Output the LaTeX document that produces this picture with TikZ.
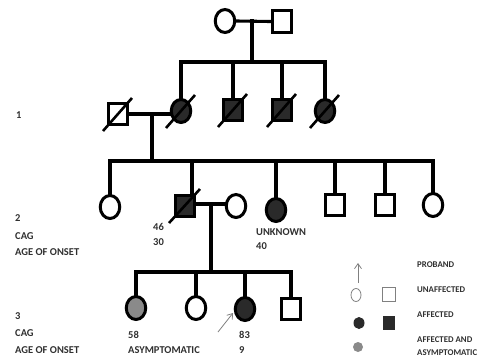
\documentclass[tikz,border=0pt]{standalone}
\usepackage{fontspec}
\setmainfont{Carlito}
\usetikzlibrary{shapes.geometric,calc,arrows.meta}
\definecolor{aff}{HTML}{2A2A2A}
\definecolor{asy}{HTML}{8A8A8A}
\definecolor{txt}{HTML}{303030}
\tikzset{
  pline/.style={line width=3.1pt, line cap=rect},
  fem/.style={ellipse, draw, line width=3pt, minimum width=19.5pt, minimum height=23pt, inner sep=0pt},
  male/.style={rectangle, draw, line width=3pt, minimum width=19pt, minimum height=21.5pt, inner sep=0pt},
  affd/.style={fill=aff},
  asym/.style={fill=asy},
  slash/.style={line width=2.6pt},
  lbl/.style={anchor=west, inner sep=0pt, text height=6.8pt, text depth=0pt, text=txt, font=\fontsize{10.5}{12}\selectfont\bfseries},
  leg/.style={anchor=west, inner sep=0pt, text height=5.8pt, text depth=0pt, text=txt, font=\fontsize{8.8}{10}\selectfont\bfseries},
  arr/.style={draw=gray, line width=0.8pt, -{Straight Barb[length=5pt,width=7pt]}},
  lsym/.style={draw=gray, line width=0.8pt, inner sep=0pt}
}
\begin{document}
\begin{tikzpicture}[x=1pt,y=-1pt]
\useasboundingbox (0,0) rectangle (485,360);
% generation 0
\node[fem] (g0f) at (225,21) {};
\node[male] (g0m) at (282,21.5) {};
\coordinate (c0) at (252,21);
\coordinate (c0b) at (252,62);
\draw[pline] (g0f.east) -- (g0m.west);
\draw[pline] (c0) -- (c0b);
% generation 1
\node[male] (sp1) at (118,114) {};
\node[fem,affd] (g1a) at (181,111) {};
\node[male,affd] (g1b) at (233,110) {};
\node[male,affd] (g1c) at (282,110) {};
\node[fem,affd] (g1d) at (325,111) {};
\draw[pline] (g1a.north) |- (c0b) -| (g1d.north);
\draw[pline] (g1b.north) -- (g1b.north |- c0b);
\draw[pline] (g1c.north) -- (g1c.north |- c0b);
\draw[pline] (sp1.east) -- (sp1.east -| g1a.west);
\coordinate (c1) at (152,114);
\coordinate (c1b) at (152,161);
\draw[pline] (c1) -- (c1b);
\foreach \n in {sp1,g1a,g1b,g1c,g1d}{
  \draw[slash] ($(\n)+(-15,17)$) -- ($(\n)+(14,-16)$);
}
% generation 2
\node[fem] (g2a) at (110,207) {};
\node[male,affd] (g2b) at (185,206) {};
\node[fem] (sp2) at (236,206) {};
\node[fem,affd] (g2c) at (276,210) {};
\node[male] (g2d) at (335,205) {};
\node[male] (g2e) at (385,205) {};
\node[fem] (g2f) at (433,205) {};
\draw[pline] (g2a.north) |- (c1b) -| (g2f.north);
\foreach \n in {g2c,g2d,g2e}{
  \draw[pline] (\n.north) -- (\n.north |- c1b);
}
\coordinate (g2bt) at ([xshift=7pt]g2b.north);
\draw[pline] (g2bt) -- (g2bt |- c1b);
\draw[slash] ($(g2b)+(-16,17)$) -- ($(g2b)+(15,-17)$);
\coordinate (c2) at (211,204);
\coordinate (c2b) at (211,272);
\draw[pline] (g2b.east |- c2) -- (sp2.west |- c2);
\draw[pline] (c2) -- (c2b);
% generation 3
\node[fem,asym] (g3a) at (136,308) {};
\node[fem] (g3b) at (196,308) {};
\node[fem,affd] (g3c) at (245,309) {};
\node[male] (g3d) at (291,309) {};
\draw[pline] (g3a.north) |- (c2b) -| (g3d.north);
\foreach \n in {g3b,g3c}{
  \draw[pline] (\n.north) -- (\n.north |- c2b);
}
\coordinate (pa) at (218,332);
\coordinate (pb) at (233,313);
\draw[arr] (pa) -- (pb);
% labels
\node[lbl] (l1) at (16,115) {1};
\node[lbl] (l2a) at (15,218) {2};
\node[lbl] (l2b) at (15,236) {CAG};
\node[lbl] (l2c) at (15,252) {AGE OF ONSET};
\node[lbl] (l3a) at (15,316) {3};
\node[lbl] (l3b) at (15,333) {CAG};
\node[lbl] (l3c) at (15,350) {AGE OF ONSET};
\node[lbl] (t46) at (153,227) {46};
\node[lbl] (t30) at (153,242) {30};
\node[lbl] (tun) at (256,232) {UNKNOWN};
\node[lbl] (t40) at (256,246) {40};
\node[lbl] (t58) at (128,335) {58};
\node[lbl] (tas) at (128,350) {ASYMPTOMATIC};
\node[lbl] (t83) at (239,335) {83};
\node[lbl] (t9) at (239,350) {9};
% legend
\coordinate (la) at (358,283);
\coordinate (lb) at (358,263);
\draw[arr] (la) -- (lb);
\node[lsym, ellipse, minimum width=10pt, minimum height=13pt] (lfw) at (356,295) {};
\node[lsym, rectangle, minimum width=13pt, minimum height=14pt] (lmw) at (389,294) {};
\node[ellipse, fill=aff, inner sep=0pt, minimum width=11pt, minimum height=12pt] (lfa) at (359,323) {};
\node[rectangle, fill=aff, inner sep=0pt, minimum width=12pt, minimum height=14pt] (lma) at (389,323) {};
\node[ellipse, fill=asy, inner sep=0pt, minimum width=10pt, minimum height=10pt] (lfg) at (358,347) {};
\node[leg] (tpr) at (417,265) {PROBAND};
\node[leg] (tua) at (417,290) {UNAFFECTED};
\node[leg] (taf) at (417,315) {AFFECTED};
\node[leg] (taa) at (417,340) {AFFECTED AND};
\node[leg] (tab) at (417,353) {ASYMPTOMATIC};
\end{tikzpicture}
\end{document}
